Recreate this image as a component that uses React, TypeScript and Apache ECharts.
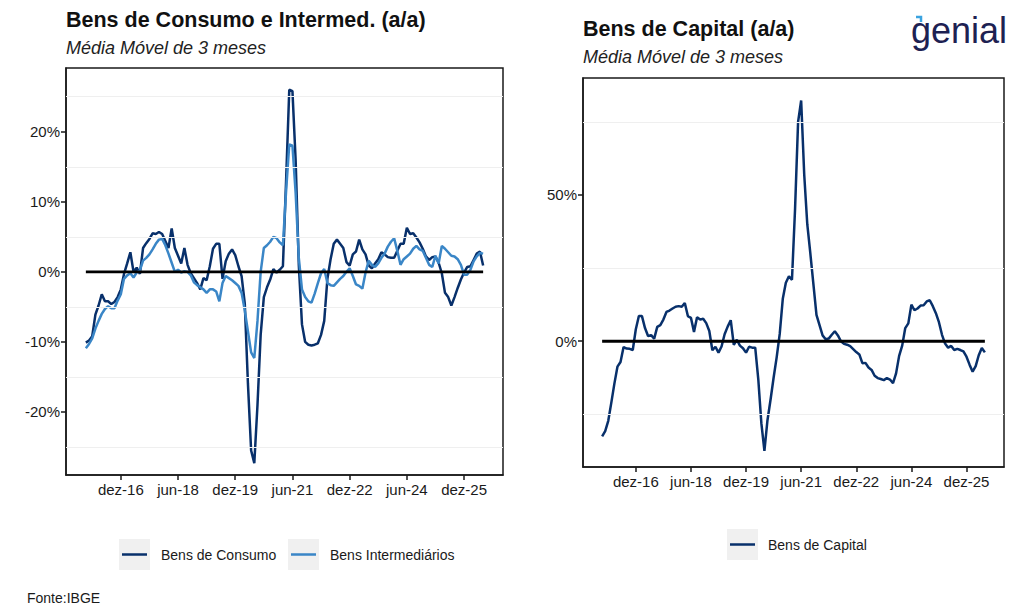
import { useEffect, useRef } from 'react';
import * as echarts from 'echarts';

// meses jan-16 .. jun-26
const MESES = ['jan', 'fev', 'mar', 'abr', 'mai', 'jun', 'jul', 'ago', 'set', 'out', 'nov', 'dez'];
const ALL_MONTHS: string[] = [];
for (let y = 16; y <= 26; y++) for (const m of MESES) ALL_MONTHS.push(`${m}-${y}`);
const MONTHS = ALL_MONTHS.slice(0, ALL_MONTHS.indexOf('jun-26') + 1);

const X_TICKS = ['dez-16', 'jun-18', 'dez-19', 'jun-21', 'dez-22', 'jun-24', 'dez-25'];

// Bens de Consumo (% a/a, MM3)
const CONSUMO = [
  -10.1, -9.8, -9.2, -6.1, -4.8, -3.2, -4.2, -4.2, -4.6, -4.3,
  -3.6, -2.5, -0.3, 1.2, 2.8, 0.0, 0.6, -0.3, 3.4, 4.1,
  4.7, 5.5, 5.4, 5.7, 5.4, 4.4, 3.4, 6.2, 3.4, 2.3,
  1.2, 3.4, 1.0, -0.2, -0.9, -1.6, -2.5, -0.9, -1.2, 0.8,
  3.3, 4.0, 4.0, -1.0, 1.5, 2.6, 3.2, 2.4, 0.8, -0.6,
  -4.5, -16.0, -25.5, -27.3, -19.0, -9.0, -3.6, -2.2, -1.1, 0.4,
  -0.1, 0.3, 0.8, 13.0, 26.0, 25.8, 16.0, 1.0, -7.5, -10.0,
  -10.4, -10.5, -10.4, -10.2, -9.0, -7.0, -1.0, 1.8, 4.0, 4.6,
  4.0, 3.4, 1.4, 0.9, 2.5, 2.9, 4.6, 3.2, 2.5, 0.9,
  0.5, 1.2, 1.8, 2.8, 2.5, 2.1, 2.0, 2.0, 3.0, 4.0,
  4.0, 6.3, 5.4, 5.5, 4.9, 4.2, 3.3, 2.2, 1.7, 2.1,
  2.2, 1.3, -0.2, -3.0, -3.6, -4.8, -3.6, -2.3, -1.1, -0.1,
  0.7, 0.8, 1.7, 2.6, 2.9, 0.9,
];

// Bens Intermediários (% a/a, MM3)
const INTERMED = [
  -10.9, -10.3, -9.5, -8.1, -7.0, -6.0, -5.3, -4.9, -5.2, -5.2,
  -4.1, -3.2, -1.0, -0.5, -0.2, -0.8, -0.1, 0.2, 1.6, 2.0,
  2.5, 3.2, 4.0, 4.6, 4.7, 3.8, 2.6, 1.3, 0.0, 0.3,
  -0.1, 0.1, 0.0, -0.5, -1.5, -1.9, -2.2, -2.5, -3.0, -2.5,
  -2.5, -2.8, -4.2, -1.6, -0.6, -0.9, -1.2, -1.6, -2.0, -3.0,
  -5.5, -8.5, -11.5, -12.3, -7.0, 0.0, 3.4, 3.8, 4.3, 5.0,
  4.8, 4.2, 3.8, 11.5, 18.2, 18.0, 11.3, 2.0, -2.5, -3.6,
  -4.2, -4.4, -3.1, -1.6, -0.2, 0.4, -1.6, -1.9, -2.0, -1.5,
  -1.0, -0.6, 0.0, 0.5, -0.6, -1.8, -2.0, -2.4, -0.1, 1.6,
  1.0, 0.7, 1.2, 2.0, 2.6, 3.6, 4.3, 4.8, 3.0, 1.0,
  1.8, 2.2, 2.6, 3.3, 3.7, 3.2, 3.0, 2.0, 1.0, 0.7,
  2.3, 1.2, 3.7, 3.3, 2.8, 2.3, 2.2, 1.8, 1.0, -0.4,
  -0.4, 0.3, 1.5, 2.2, 2.7, 2.6,
];

// Bens de Capital (% a/a, MM3)
const CAPITAL = [
  -32.5, -30.7, -27.2, -21.0, -14.5, -8.7, -7.1, -2.0, -2.5, -2.6,
  -3.0, 4.1, 8.6, 8.6, 4.5, 1.8, 2.1, 0.9, 4.9, 5.5,
  7.4, 10.0, 10.5, 11.2, 11.8, 12.0, 11.8, 13.1, 8.6, 8.0,
  3.2, 8.2, 7.4, 7.7, 6.2, 3.5, -3.1, -1.9, -3.9, -1.8,
  2.4, 5.0, 7.2, -1.2, 0.5, -1.5, -2.4, -3.9, -1.9, -2.2,
  -2.2, -13.0, -28.0, -37.5, -27.0, -20.0, -12.5, -5.5, 2.5, 14.5,
  20.0, 22.2, 21.0, 45.0, 75.0, 82.3, 57.0, 40.0, 30.0, 19.5,
  9.0, 5.5, 2.0, 0.7, 0.9, 2.2, 3.4, 2.0, 0.0, -0.9,
  -1.2, -1.7, -2.7, -3.7, -4.5, -7.5, -7.4, -9.0, -9.8, -11.8,
  -12.6, -12.9, -13.3, -12.6, -13.1, -14.3, -11.0, -5.0, -1.5, 4.5,
  6.1, 12.5, 10.6, 11.2, 12.2, 12.3, 13.6, 14.0, 12.0, 9.6,
  6.5, 2.2, -0.8, -2.2, -1.6, -3.0, -2.6, -3.0, -3.5, -5.3,
  -8.0, -10.4, -8.5, -4.8, -2.3, -3.8,
];

const LEFT_Y_TICKS = [-20, -10, 0, 10, 20];
const LEFT_Y_MINOR = [-25, -15, -5, 5, 15, 25];
const LEFT_Y_RANGE = [-29, 29.1];
const RIGHT_Y_TICKS = [0, 50];
const RIGHT_Y_MINOR = [-25, 25, 75];
const RIGHT_Y_RANGE = [-43, 90];

const DARK = '#08306b';
const LIGHT = '#3a86c7';
const FONT = "'Liberation Sans', Arial, sans-serif";
const TXT = '#1a1a1a';

export default function App() {
  const ref = useRef<HTMLDivElement>(null);

  useEffect(() => {
    if (!ref.current) return;
    const chart = echarts.init(ref.current, null, { renderer: 'svg' });

    const n = MONTHS.length;
    const pad = (n - 1) * 0.05;
    const tickPos = X_TICKS.map((l) => MONTHS.indexOf(l));
    const toXY = (arr: number[]) => arr.map((v, i) => [i, v]);

    const axisLine = { show: true, onZero: false, lineStyle: { color: TXT, width: 1.5 } };
    const xAxis = (gridIndex: number) => ({
      type: 'value',
      gridIndex,
      min: -pad,
      max: n - 1 + pad,
      axisLine,
      splitLine: { show: false },
      axisTick: { show: true, customValues: tickPos, length: 5, lineStyle: { color: TXT, width: 1.5 } },
      axisLabel: {
        customValues: tickPos,
        formatter: (v: number) => MONTHS[Math.round(v)],
        color: TXT, fontSize: 15, fontFamily: FONT, margin: 7,
      },
    });
    const yAxis = (gridIndex: number, range: number[], ticks: number[]) => ({
      type: 'value',
      gridIndex,
      min: range[0],
      max: range[1],
      axisLine,
      splitLine: { show: false },
      axisTick: { show: true, customValues: ticks, length: 5, lineStyle: { color: TXT, width: 1.5 } },
      axisLabel: {
        customValues: ticks,
        formatter: (v: number) => `${v}%`,
        color: TXT, fontSize: 15, fontFamily: FONT, margin: 6,
      },
    });
    const gridLines = (idx: number, values: number[]) => ({
      type: 'line', xAxisIndex: idx, yAxisIndex: idx, data: [], silent: true, z: 1,
      markLine: {
        silent: true, symbol: 'none', label: { show: false },
        lineStyle: { color: '#efefef', width: 1, type: 'solid' },
        emphasis: { disabled: true },
        data: values.map((v) => ({ yAxis: v })),
      },
    });
    const lineSeries = (name: string, idx: number, arr: number[], color: string, z: number) => ({
      name, type: 'line', xAxisIndex: idx, yAxisIndex: idx, data: toXY(arr),
      showSymbol: false, symbol: 'none', silent: true, z,
      lineStyle: { color, width: 2.5 }, itemStyle: { color },
    });
    const zeroLine = (idx: number) => ({
      type: 'line', xAxisIndex: idx, yAxisIndex: idx, data: [[0, 0], [n - 1, 0]],
      showSymbol: false, symbol: 'none', silent: true, z: 6,
      lineStyle: { color: '#000', width: 2.8 },
    });

    const txt = (text: string, x: number, y: number, size: number, extra: any = {}) => ({
      type: 'text', x, y, silent: true,
      style: { text, fontSize: size, fontFamily: FONT, fill: TXT, verticalAlign: 'middle', align: 'left', ...extra },
    });
    const key = (x: number, y: number, color: string) => [
      { type: 'rect', shape: { x, y, width: 31, height: 31 }, style: { fill: '#f0f0f0' }, silent: true },
      { type: 'line', shape: { x1: x + 3, y1: y + 15.5, x2: x + 28, y2: y + 15.5 }, style: { stroke: color, lineWidth: 2.5 }, silent: true },
    ];

    chart.setOption({
      animation: false,
      backgroundColor: '#fff',
      grid: [
        { left: 66, top: 68, width: 437, height: 407, show: true, borderColor: '#1a1a1a', borderWidth: 1.5, backgroundColor: 'transparent', containLabel: false, outerBoundsMode: 'none' },
        { left: 583, top: 78, width: 421, height: 389, show: true, borderColor: '#1a1a1a', borderWidth: 1.5, backgroundColor: 'transparent', containLabel: false, outerBoundsMode: 'none' },
      ],
      xAxis: [xAxis(0), xAxis(1)],
      yAxis: [yAxis(0, LEFT_Y_RANGE, LEFT_Y_TICKS), yAxis(1, RIGHT_Y_RANGE, RIGHT_Y_TICKS)],
      series: [
        gridLines(0, LEFT_Y_MINOR),
        lineSeries('Bens de Consumo', 0, CONSUMO, DARK, 3),
        lineSeries('Bens Intermediários', 0, INTERMED, LIGHT, 4),
        zeroLine(0),
        gridLines(1, RIGHT_Y_MINOR),
        lineSeries('Bens de Capital', 1, CAPITAL, DARK, 3),
        zeroLine(1),
      ],
      graphic: [
        txt('Bens de Consumo e Intermed. (a/a)', 66, 19.5, 21.5, { fontWeight: 'bold', fill: '#111' }),
        txt('Média Móvel de 3 meses', 66, 47.5, 18, { fontStyle: 'italic', fill: '#222' }),
        txt('Bens de Capital (a/a)', 583, 28.5, 21.5, { fontWeight: 'bold', fill: '#111' }),
        txt('Média Móvel de 3 meses', 583, 57, 18, { fontStyle: 'italic', fill: '#222' }),
        txt('genial', 911, 30, 36, { fill: '#1d2152' }),
        { type: 'polyline', silent: true, shape: { points: [[916, 17], [921, 17], [921, 22]] }, style: { stroke: '#3aa3e0', lineWidth: 2.5, fill: null } },
        ...key(119, 539, DARK),
        txt('Bens de Consumo', 161, 555, 14),
        ...key(288, 539, LIGHT),
        txt('Bens Intermediários', 330, 555, 14),
        ...key(727, 529, DARK),
        txt('Bens de Capital', 768, 545, 14),
        txt('Fonte:IBGE', 27, 598, 14),
      ],
    });

    return () => chart.dispose();
  }, []);

  return (
    <div
      ref={ref}
      style={{ position: 'absolute', left: 0, top: 0, width: 1024, height: 614, background: '#fff' }}
    />
  );
}
